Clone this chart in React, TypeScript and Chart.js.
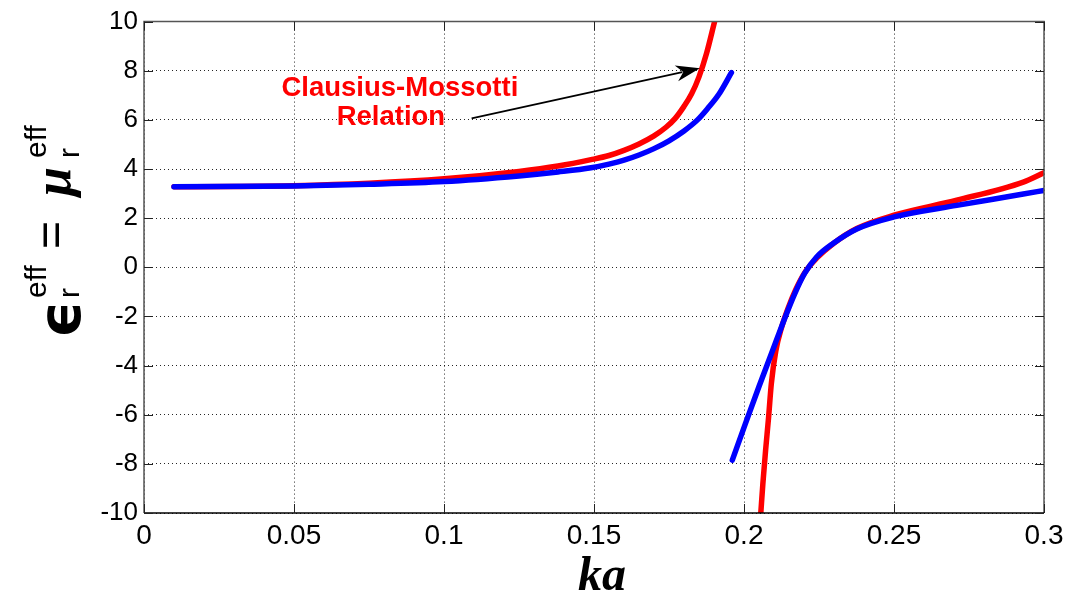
import React, { useEffect, useRef } from "react";
import { Chart, registerables } from "chart.js";

Chart.register(...registerables);

// ---- data ----
const redBranch1X = [0.01, 0.03, 0.05, 0.075, 0.1, 0.125, 0.138, 0.149, 0.155, 0.16, 0.165, 0.17, 0.174, 0.177, 0.18, 0.1825, 0.185, 0.1875, 0.1902];
const redBranch1Y = [3.28, 3.29, 3.32, 3.42, 3.6, 3.9, 4.12, 4.38, 4.55, 4.76, 5.02, 5.35, 5.7, 6.05, 6.55, 7.05, 7.75, 8.7, 10.0];

const redBranch2X = [0.2056, 0.2063, 0.2072, 0.2082, 0.2091, 0.2106, 0.2125, 0.2147, 0.2172, 0.2205, 0.2242, 0.2298, 0.2376, 0.25, 0.2709, 0.2931, 0.3];
const redBranch2Y = [-10.0, -8.79, -7.45, -6.1, -4.75, -3.41, -2.46, -1.66, -0.92, -0.17, 0.37, 0.97, 1.58, 2.12, 2.73, 3.47, 3.85];

const blueBranch1X = [0.01, 0.05, 0.075, 0.1, 0.125, 0.138, 0.149, 0.155, 0.16, 0.165, 0.17, 0.175, 0.18, 0.1845, 0.188, 0.1915, 0.1958];
const blueBranch1Y = [3.28, 3.31, 3.38, 3.49, 3.72, 3.88, 4.05, 4.2, 4.36, 4.57, 4.83, 5.15, 5.55, 6.0, 6.48, 7.02, 7.92];

const blueBranch2X = [0.1961, 0.2005, 0.205, 0.2095, 0.2135, 0.217, 0.2202, 0.2242, 0.2298, 0.2376, 0.25, 0.2709, 0.2931, 0.3];
const blueBranch2Y = [-7.85, -6.35, -4.85, -3.4, -2.1, -1.05, -0.25, 0.42, 0.98, 1.56, 2.05, 2.52, 2.98, 3.13];

const xTicks = [0, 0.05, 0.1, 0.15, 0.2, 0.25, 0.3];
const xTickLabels = ["0", "0.05", "0.1", "0.15", "0.2", "0.25", "0.3"];
const yTicks = [-10, -8, -6, -4, -2, 0, 2, 4, 6, 8, 10];
const yTickLabels = ["-10", "-8", "-6", "-4", "-2", "0", "2", "4", "6", "8", "10"];

const annotationLines = ["Clausius-Mossotti", "Relation"];
const xTitle = "ka";

const pts = (xs: number[], ys: number[]) => xs.map((x, i) => ({ x, y: ys[i] }));

const RED = "#ff0000";
const BLUE = "#0000ff";

const decorPlugin = {
  id: "decor",
  afterDatasetsDraw(chart: any) {
    const ctx = chart.ctx as CanvasRenderingContext2D;
    const { left, right, top, bottom } = chart.chartArea;
    const xs = chart.scales.x;
    const ys = chart.scales.y;
    ctx.save();

    // box
    ctx.lineWidth = 1.5;
    ctx.strokeStyle = "#555";
    ctx.beginPath();
    ctx.moveTo(left, bottom);
    ctx.lineTo(left, top);
    ctx.lineTo(right, top);
    ctx.lineTo(right, bottom);
    ctx.stroke();
    ctx.strokeStyle = "#000";
    ctx.beginPath();
    ctx.moveTo(left, bottom);
    ctx.lineTo(right, bottom);
    ctx.stroke();

    // inward ticks
    const tl = 9;
    ctx.lineWidth = 1;
    ctx.strokeStyle = "#222";
    ctx.beginPath();
    xTicks.forEach((v) => {
      const px = Math.round(xs.getPixelForValue(v)) + 0.5;
      ctx.moveTo(px, bottom);
      ctx.lineTo(px, bottom - tl);
      ctx.moveTo(px, top);
      ctx.lineTo(px, top + tl);
    });
    yTicks.forEach((v) => {
      const py = Math.round(ys.getPixelForValue(v)) + 0.5;
      ctx.moveTo(left, py);
      ctx.lineTo(left + tl, py);
      ctx.moveTo(right, py);
      ctx.lineTo(right - tl, py);
    });
    ctx.stroke();

    // annotation text
    ctx.fillStyle = RED;
    ctx.font = "bold 27.5px 'Liberation Sans', Arial, sans-serif";
    ctx.textAlign = "center";
    ctx.textBaseline = "middle";
    ctx.fillText(annotationLines[0], xs.getPixelForValue(0.0853), ys.getPixelForValue(7.28));
    ctx.fillText(annotationLines[1], xs.getPixelForValue(0.0823), ys.getPixelForValue(6.1));

    // arrow
    const tx = xs.getPixelForValue(0.1092);
    const ty = ys.getPixelForValue(6.06);
    const hx = xs.getPixelForValue(0.1853);
    const hy = ys.getPixelForValue(8.1);
    const ang = Math.atan2(hy - ty, hx - tx);
    const headLen = 24;
    const headW = 8;
    const bx = hx - headLen * Math.cos(ang);
    const by = hy - headLen * Math.sin(ang);
    ctx.strokeStyle = "#000";
    ctx.lineWidth = 1.6;
    ctx.beginPath();
    ctx.moveTo(tx, ty);
    ctx.lineTo(bx + 6 * Math.cos(ang), by + 6 * Math.sin(ang));
    ctx.stroke();
    ctx.fillStyle = "#000";
    const nx = -Math.sin(ang);
    const ny = Math.cos(ang);
    ctx.beginPath();
    ctx.moveTo(hx, hy);
    ctx.lineTo(bx + nx * headW, by + ny * headW);
    ctx.lineTo(bx + 7 * Math.cos(ang), by + 7 * Math.sin(ang));
    ctx.lineTo(bx - nx * headW, by - ny * headW);
    ctx.closePath();
    ctx.fill();

    // x title
    ctx.fillStyle = "#000";
    ctx.font = "italic bold 48px 'Liberation Serif', 'DejaVu Serif', serif";
    ctx.textAlign = "center";
    ctx.textBaseline = "alphabetic";
    ctx.fillText(xTitle, (left + right) / 2 + 8, 590);

    // y title (rotated, reads bottom to top)
    const rot = (text: string, font: string, baseX: number, startY: number) => {
      ctx.save();
      ctx.translate(baseX, startY);
      ctx.rotate(-Math.PI / 2);
      ctx.font = font;
      ctx.textAlign = "left";
      ctx.textBaseline = "alphabetic";
      ctx.fillText(text, 0, 0);
      ctx.restore();
    };
    const small = "30px 'Liberation Sans', Arial, sans-serif";
    rot("\u03F5", "bold 58px 'DejaVu Sans', sans-serif", 80, 338);
    rot("eff", small, 46, 298);
    rot("r", small, 79, 298);
    rot("=", "48px 'Liberation Sans', Arial, sans-serif", 67, 249);
    rot("\u03BC", "italic bold 52px 'Liberation Serif', 'DejaVu Serif', serif", 70, 196);
    rot("eff", small, 46, 158);
    rot("r", small, 79, 158);

    ctx.restore();
  },
};

export default function App() {
  const ref = useRef<HTMLCanvasElement | null>(null);
  useEffect(() => {
    document.body.style.margin = "0";
    const canvas = ref.current;
    if (!canvas) return;
    const line = (data: any[], color: string) => ({
      data,
      borderColor: color,
      backgroundColor: color,
      borderWidth: 5.5,
      pointRadius: 0,
      cubicInterpolationMode: "monotone" as const,
      borderCapStyle: "round" as const,
      borderJoinStyle: "round" as const,
      fill: false,
    });
    const xTickFont = { family: "'Liberation Sans', Arial, sans-serif", size: 28 };
    const yTickFont = { family: "'Liberation Sans', Arial, sans-serif", size: 26 };
    const chart = new Chart(canvas, {
      type: "line",
      data: {
        datasets: [
          { label: "blue1", ...line(pts(blueBranch1X, blueBranch1Y), BLUE) },
          { label: "blue2", ...line(pts(blueBranch2X, blueBranch2Y), BLUE) },
          { label: "red1", ...line(pts(redBranch1X, redBranch1Y), RED) },
          { label: "red2", ...line(pts(redBranch2X, redBranch2Y), RED) },
        ],
      },
      options: {
        responsive: false,
        animation: false,
        devicePixelRatio: 1,
        layout: { padding: { left: 0, right: 26, top: 18, bottom: 0 } },
        plugins: {
          legend: { display: false },
          tooltip: { enabled: false },
          title: { display: false },
        },
        scales: {
          x: {
            type: "linear",
            min: 0,
            max: 0.3,
            afterBuildTicks: (s: any) => {
              s.ticks = xTicks.map((v) => ({ value: v }));
            },
            afterFit: (s: any) => {
              s.height = 83;
            },
            grid: { color: "rgba(0,0,0,0.85)", lineWidth: 1, drawTicks: false },
            border: { display: false, dash: [1, 3] },
            ticks: {
              font: xTickFont,
              color: "#000",
              padding: 6,
              maxRotation: 0,
              autoSkip: false,
              callback: (_v: any, i: number) => xTickLabels[i],
            },
          },
          y: {
            type: "linear",
            min: -10,
            max: 10,
            afterBuildTicks: (s: any) => {
              s.ticks = yTicks.map((v) => ({ value: v }));
            },
            afterFit: (s: any) => {
              s.width = 144;
            },
            grid: { color: "rgba(0,0,0,0.85)", lineWidth: 1, drawTicks: false },
            border: { display: false, dash: [1, 3] },
            ticks: {
              font: yTickFont,
              color: "#000",
              padding: 6,
              autoSkip: false,
              callback: (_v: any, i: number) => yTickLabels[i],
            },
          },
        },
      },
      plugins: [decorPlugin],
    });
    return () => chart.destroy();
  }, []);
  return (
    <div style={{ position: "absolute", left: 0, top: 0, width: 1070, height: 596, background: "#fff" }}>
      <canvas ref={ref} width={1070} height={596} style={{ width: 1070, height: 596, display: "block" }} />
    </div>
  );
}
